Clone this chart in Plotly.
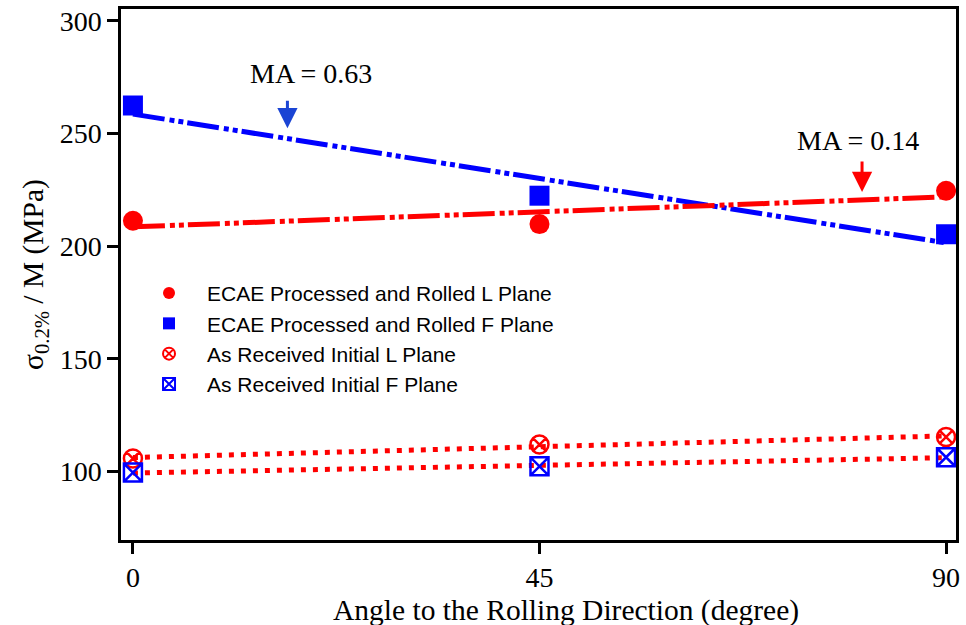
import numpy as np
import plotly.graph_objects as go

# Angle to the rolling direction (degree)
angles = [0, 45, 90]

# 0.2% proof stress divided by Taylor factor, MPa
ecae_l_plane = [211.3, 209.8, 224.6]
ecae_f_plane = [262.4, 222.4, 205.3]
as_recv_l_plane = [105.8, 112.0, 115.4]
as_recv_f_plane = [99.6, 102.4, 106.4]

series_names = [
    "ECAE Processed and Rolled L Plane",
    "ECAE Processed and Rolled F Plane",
    "As Received Initial L Plane",
    "As Received Initial F Plane",
]

# Mechanical anisotropy labels
ma_labels = ["MA = 0.63", "MA = 0.14"]

RED = "#ff0000"
BLUE = "#0000ff"
SERIF = "Liberation Serif, Times New Roman, serif"
SANS = "Liberation Sans, Arial, sans-serif"

x = np.array(angles, dtype=float)
x_fit = np.array([x.min(), x.max()])


def linear_fit(values):
    slope, intercept = np.polyfit(x, np.array(values, dtype=float), 1)
    return slope * x_fit + intercept


fig = go.Figure()

# Least-squares trend lines (drawn underneath the markers)
dashdotdot = "32px,5px,5px,4px,5px,4px"
fig.add_trace(go.Scatter(x=x_fit, y=linear_fit(ecae_f_plane), mode="lines",
                         line=dict(color=BLUE, width=5, dash=dashdotdot),
                         showlegend=False, hoverinfo="skip"))
fig.add_trace(go.Scatter(x=x_fit, y=linear_fit(ecae_l_plane), mode="lines",
                         line=dict(color=RED, width=5, dash=dashdotdot),
                         showlegend=False, hoverinfo="skip"))
fig.add_trace(go.Scatter(x=x_fit, y=linear_fit(as_recv_l_plane), mode="lines",
                         line=dict(color=RED, width=5, dash="5px,7px"),
                         showlegend=False, hoverinfo="skip"))
fig.add_trace(go.Scatter(x=x_fit, y=linear_fit(as_recv_f_plane), mode="lines",
                         line=dict(color=RED, width=5, dash="5px,7px"),
                         showlegend=False, hoverinfo="skip"))

# Measured points
fig.add_trace(go.Scatter(x=angles, y=ecae_l_plane, mode="markers", name=series_names[0],
                         marker=dict(symbol="circle", size=20, color=RED)))
fig.add_trace(go.Scatter(x=angles, y=ecae_f_plane, mode="markers", name=series_names[1],
                         marker=dict(symbol="square", size=20, color=BLUE)))
fig.add_trace(go.Scatter(x=angles, y=as_recv_l_plane, mode="markers", name=series_names[2],
                         marker=dict(symbol="circle-x-open", size=18, color=RED,
                                     line=dict(width=2.5, color=RED))))
fig.add_trace(go.Scatter(x=angles, y=as_recv_f_plane, mode="markers", name=series_names[3],
                         marker=dict(symbol="square-x-open", size=18, color=BLUE,
                                     line=dict(width=2.5, color=BLUE))))

# MA labels with short downward arrows
fig.add_annotation(x=19.7, y=276.4, text=ma_labels[0], showarrow=False,
                   font=dict(family=SERIF, size=28, color="black"))
fig.add_annotation(x=17.1, y=252.3, text="", showarrow=True, ax=0, ay=-29,
                   arrowhead=2, arrowsize=1.35, arrowwidth=3, arrowcolor="#1a44d4")
fig.add_annotation(x=80.3, y=247.1, text=ma_labels[1], showarrow=False,
                   font=dict(family=SERIF, size=28, color="black"))
fig.add_annotation(x=80.7, y=224.0, text="", showarrow=True, ax=0, ay=-32,
                   arrowhead=2, arrowsize=1.35, arrowwidth=3, arrowcolor=RED)

# x-axis title
fig.add_annotation(xref="paper", yref="paper", x=0.533, y=-0.133,
                   xanchor="center", yanchor="middle", showarrow=False,
                   text="Angle to the Rolling Direction (degree)",
                   font=dict(family=SERIF, size=29.5, color="black"))

fig.update_layout(
    width=966, height=625,
    margin=dict(l=121, r=6, t=9, b=85),
    paper_bgcolor="white", plot_bgcolor="white",
    font=dict(family=SERIF, size=28, color="black"),
    legend=dict(x=0.012, y=0.503, xanchor="left", yanchor="top",
                bgcolor="rgba(0,0,0,0)", itemsizing="constant", itemwidth=66,
                font=dict(family=SANS, size=21, color="black")),
    xaxis=dict(
        range=[-1.32, 91.1], tickvals=angles, ticktext=[str(a) for a in angles],
        showgrid=False, zeroline=False, showline=True, linecolor="black",
        linewidth=2.5, mirror=True, ticks="outside", ticklen=11, tickwidth=2.5,
        tickcolor="black", tickfont=dict(family=SERIF, size=28),
    ),
    yaxis=dict(
        range=[69.7, 305.2], tickvals=[100, 150, 200, 250, 300],
        showgrid=False, zeroline=False, showline=True, linecolor="black",
        linewidth=2.5, mirror=True, ticks="outside", ticklen=11, tickwidth=2.5,
        tickcolor="black", tickfont=dict(family=SERIF, size=28),
        title=dict(text="σ<sub>0.2%</sub> / M (MPa)",
                   font=dict(family=SERIF, size=29.5), standoff=8),
    ),
)

fig.write_html("out.html")
